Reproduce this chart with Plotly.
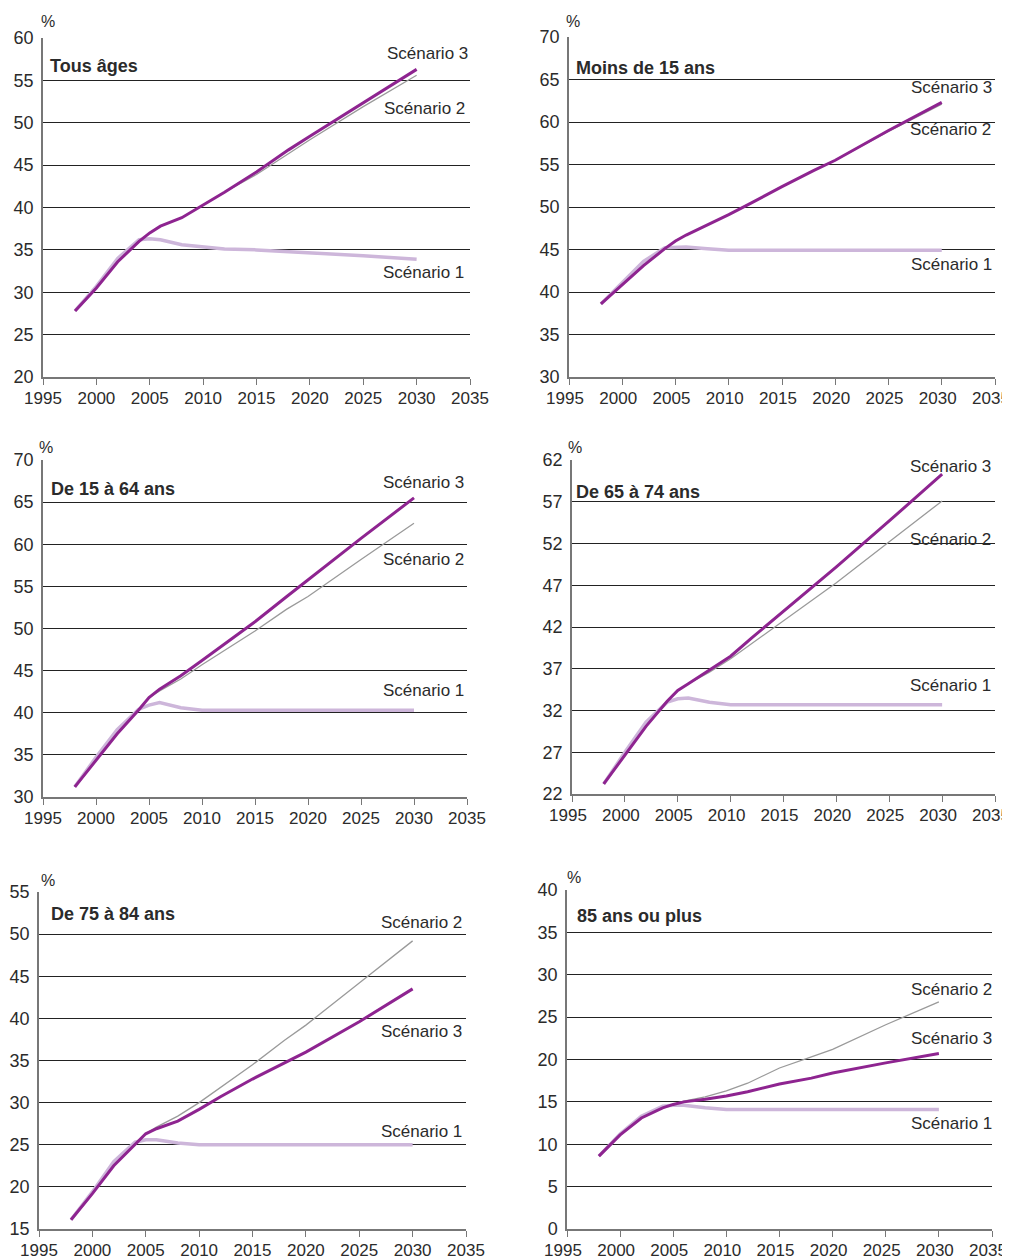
import plotly.graph_objects as go

OFF = 8            # default page margin of the html body
W, H = 1010 - OFF, 1259 - OFF

YEARS = [1998, 2000, 2002, 2004, 2005, 2006, 2008, 2010, 2012, 2015, 2018, 2020, 2025, 2030]

PANEL_TITLES = ["Tous âges", "Moins de 15 ans", "De 15 à 64 ans",
                "De 65 à 74 ans", "De 75 à 84 ans", "85 ans ou plus"]

# Scénario 1
S1_TOUS = [27.8, 30.7, 34.0, 36.2, 36.3, 36.2, 35.6, 35.3, 35.1, 35.0, 34.8, 34.7, 34.3, 33.9]
S1_M15 = [38.6, 41.1, 43.6, 45.2, 45.3, 45.3, 45.1, 44.9, 44.9, 44.9, 44.9, 44.9, 44.9, 44.9]
S1_15_64 = [31.2, 34.7, 38.0, 40.4, 40.9, 41.2, 40.6, 40.3, 40.3, 40.3, 40.3, 40.3, 40.3, 40.3]
S1_65_74 = [23.2, 27.0, 30.6, 33.0, 33.4, 33.5, 33.0, 32.7, 32.7, 32.7, 32.7, 32.7, 32.7, 32.7]
S1_75_84 = [16.1, 19.4, 23.0, 25.3, 25.6, 25.6, 25.2, 25.0, 25.0, 25.0, 25.0, 25.0, 25.0, 25.0]
S1_85 = [8.6, 11.2, 13.3, 14.5, 14.6, 14.6, 14.3, 14.1, 14.1, 14.1, 14.1, 14.1, 14.1, 14.1]

# Scénario 2
S2_TOUS = [27.8, 30.5, 33.6, 36.0, 37.0, 37.8, 38.8, 40.3, 41.8, 43.9, 46.4, 48.0, 51.9, 55.6]
S2_M15 = [38.6, 40.9, 43.1, 45.1, 46.0, 46.7, 47.9, 49.1, 50.4, 52.4, 54.3, 55.5, 58.9, 62.1]
S2_15_64 = [31.2, 34.4, 37.5, 40.3, 41.8, 42.6, 44.0, 45.7, 47.3, 49.7, 52.3, 53.8, 58.2, 62.5]
S2_65_74 = [23.2, 26.7, 30.1, 33.1, 34.4, 35.2, 36.6, 38.2, 40.0, 42.7, 45.5, 47.3, 52.2, 57.1]
S2_75_84 = [16.1, 19.2, 22.5, 25.1, 26.3, 27.1, 28.4, 30.0, 31.8, 34.5, 37.4, 39.2, 44.2, 49.2]
S2_85 = [8.6, 11.1, 13.1, 14.3, 14.7, 15.1, 15.6, 16.3, 17.2, 19.0, 20.3, 21.2, 24.1, 26.8]

# Scénario 3
S3_TOUS = [27.8, 30.5, 33.6, 36.0, 37.0, 37.8, 38.8, 40.3, 41.8, 44.2, 46.8, 48.4, 52.4, 56.3]
S3_M15 = [38.6, 40.9, 43.1, 45.1, 46.0, 46.7, 47.9, 49.1, 50.4, 52.4, 54.3, 55.5, 59.0, 62.3]
S3_15_64 = [31.2, 34.4, 37.5, 40.3, 41.8, 42.8, 44.4, 46.2, 48.0, 50.8, 53.8, 55.8, 60.7, 65.5]
S3_65_74 = [23.2, 26.7, 30.1, 33.1, 34.4, 35.2, 36.8, 38.5, 40.7, 43.9, 47.0, 49.2, 54.7, 60.3]
S3_75_84 = [16.1, 19.2, 22.5, 25.1, 26.3, 26.9, 27.8, 29.2, 30.7, 32.8, 34.7, 36.0, 39.6, 43.5]
S3_85 = [8.6, 11.1, 13.1, 14.3, 14.7, 15.0, 15.3, 15.7, 16.2, 17.1, 17.8, 18.4, 19.6, 20.7]

S1 = [S1_TOUS, S1_M15, S1_15_64, S1_65_74, S1_75_84, S1_85]
S2 = [S2_TOUS, S2_M15, S2_15_64, S2_65_74, S2_75_84, S2_85]
S3 = [S3_TOUS, S3_M15, S3_15_64, S3_65_74, S3_75_84, S3_85]

Y_RANGES = [(20, 60), (30, 70), (30, 70), (22, 62), (15, 55), (0, 40)]
X_TICKS = [1995, 2000, 2005, 2010, 2015, 2020, 2025, 2030, 2035]

# scenario label order top->bottom per panel
LABEL_ORDER = [["Scénario 3", "Scénario 2", "Scénario 1"],
               ["Scénario 3", "Scénario 2", "Scénario 1"],
               ["Scénario 3", "Scénario 2", "Scénario 1"],
               ["Scénario 3", "Scénario 2", "Scénario 1"],
               ["Scénario 2", "Scénario 3", "Scénario 1"],
               ["Scénario 2", "Scénario 3", "Scénario 1"]]

# panel boxes in window pixels: left, right, top, bottom
BOXES = [(43, 470, 38, 377), (569, 995, 37, 377),
         (43, 467, 460, 797), (572, 995, 460, 794),
         (39, 466, 892, 1229), (567, 992, 890, 1229)]

# text positions (window pixels)
TITLE_POS = [(48, 66), (574, 68), (49, 489), (574, 492), (49, 914), (575, 916)]
PCT_POS = [(48, 22), (573, 22), (46, 447), (575, 447), (48, 880), (574, 877)]
LABEL_POS = [[(470, 53), (467, 108), (466, 272)],
             [(994, 88), (993, 129), (994, 264)],
             [(466, 483), (466, 559), (466, 690)],
             [(993, 466), (993, 539), (993, 685)],
             [(464, 922), (464, 1031), (464, 1131)],
             [(994, 989), (994, 1038), (994, 1123)]]

FONT = "Liberation Sans, Arial, sans-serif"
TXT = "#2b2b2b"
C1, C2, C3 = "#cdb6da", "#9a9a9a", "#8e2490"


def px(x):
    return (x - OFF) / W


def py(y):
    return 1 - (y - OFF) / H


fig = go.Figure()
layout = dict(width=W, height=H, margin=dict(l=0, r=0, t=0, b=0, autoexpand=False),
              paper_bgcolor="white", plot_bgcolor="white", showlegend=False,
              template="none",
              font=dict(family=FONT, size=17, color=TXT))
annotations = []

for i in range(6):
    n = "" if i == 0 else str(i + 1)
    xa, ya = "x" + n, "y" + n
    l, r, t, b = BOXES[i]
    y0, y1 = Y_RANGES[i]
    layout["xaxis" + n] = dict(
        domain=[px(l), px(r)], range=[1995, 2035], anchor=ya, automargin=False,
        tickvals=X_TICKS, ticks="outside", ticklen=6, tickcolor="#777",
        showline=True, linecolor="#777", linewidth=1.5, showgrid=False,
        zeroline=False, ticklabeloverflow="allow", ticklabelstandoff=-1,
        ticklabelshift=(-4 if i % 2 == 1 else 0),
        tickfont=dict(size=17, color=TXT, family=FONT))
    layout["yaxis" + n] = dict(
        domain=[py(b), py(t)], range=[y0, y1], anchor=xa, automargin=False,
        tick0=y0, dtick=5, ticks="", showline=True, linecolor="#777",
        linewidth=1.5, showgrid=True, gridcolor="#222", gridwidth=1,
        zeroline=False, ticklabelstandoff=4, ticklabeloverflow="allow",
        tickfont=dict(size=18, color=TXT, family=FONT))
    fig.add_trace(go.Scatter(x=YEARS, y=S1[i], mode="lines", xaxis=xa, yaxis=ya,
                             line=dict(color=C1, width=3.5), name="Scénario 1"))
    fig.add_trace(go.Scatter(x=YEARS, y=S2[i], mode="lines", xaxis=xa, yaxis=ya,
                             line=dict(color=C2, width=1.3), name="Scénario 2"))
    fig.add_trace(go.Scatter(x=YEARS, y=S3[i], mode="lines", xaxis=xa, yaxis=ya,
                             line=dict(color=C3, width=3), name="Scénario 3"))
    # title
    tx, ty = TITLE_POS[i]
    annotations.append(dict(x=px(tx), y=py(ty), xref="paper", yref="paper",
                            text="<b>" + PANEL_TITLES[i] + "</b>", showarrow=False,
                            xanchor="left", yanchor="middle",
                            font=dict(size=18, color=TXT, family=FONT)))
    # percent sign
    qx, qy = PCT_POS[i]
    annotations.append(dict(x=px(qx), y=py(qy), xref="paper", yref="paper",
                            text="%", showarrow=False, xanchor="center",
                            yanchor="middle", font=dict(size=16, color=TXT, family=FONT)))
    for lab, (lx, ly) in zip(LABEL_ORDER[i], LABEL_POS[i]):
        annotations.append(dict(x=px(lx), y=py(ly), xref="paper", yref="paper",
                                text=lab, showarrow=False, xanchor="right",
                                yanchor="middle", font=dict(size=17, color=TXT, family=FONT)))

layout["annotations"] = annotations
fig.update_layout(**layout)
fig.write_html("out.html")
